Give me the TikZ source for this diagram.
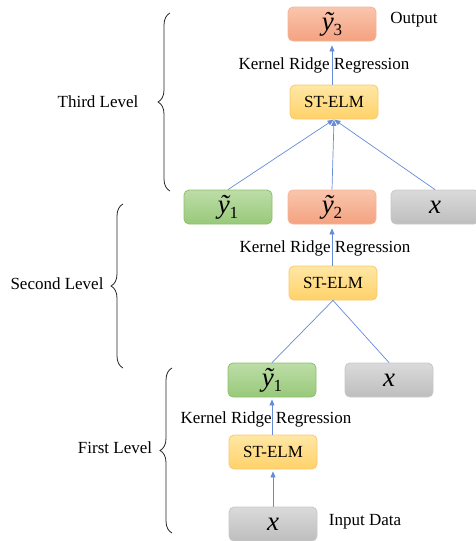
\documentclass[tikz,border=0pt]{standalone}
\usepackage{fontspec}
\setmainfont{LiberationSerif}[Extension=.ttf, UprightFont=*-Regular,
  ItalicFont=*-Italic, BoldFont=*-Bold, BoldItalicFont=*-BoldItalic]
\usetikzlibrary{decorations.pathreplacing,arrows.meta}

\definecolor{salmonTop}{RGB}{249,197,173}
\definecolor{salmonBot}{RGB}{244,162,128}
\definecolor{salmonEdge}{RGB}{246,180,150}
\definecolor{greenTop}{RGB}{189,221,168}
\definecolor{greenBot}{RGB}{152,201,122}
\definecolor{greenEdge}{RGB}{140,192,106}
\definecolor{greyTop}{RGB}{218,218,218}
\definecolor{greyBot}{RGB}{190,190,190}
\definecolor{greyEdge}{RGB}{200,200,200}
\definecolor{yelTop}{RGB}{255,231,165}
\definecolor{yelBot}{RGB}{255,210,105}
\definecolor{yelEdge}{RGB}{250,200,110}
\definecolor{flow}{RGB}{100,140,215}

\newcommand{\ytil}[1]{{\fontsize{27}{27}\selectfont\itshape ỹ}{\fontsize{17}{17}\selectfont\raisebox{-5pt}{#1}}}
\newcommand{\xvar}{{\fontsize{27}{27}\selectfont\itshape x}}

\tikzset{
  box/.style={rounded corners=5pt, minimum width=88pt, minimum height=34pt,
    inner sep=0pt, line width=0.8pt},
  outbox/.style={box, draw=salmonEdge, top color=salmonTop, bottom color=salmonBot},
  grnbox/.style={box, draw=greenEdge, top color=greenTop, bottom color=greenBot},
  grybox/.style={box, draw=greyEdge, top color=greyTop, bottom color=greyBot},
  elmbox/.style={box, draw=yelEdge, top color=yelTop, bottom color=yelBot,
    font=\fontsize{17}{17}\selectfont},
  lbl/.style={font=\fontsize{17}{17}\selectfont, inner sep=0pt},
  flowline/.style={draw=flow, line width=0.7pt},
  flowarrow/.style={flowline, -{Triangle[length=6pt,width=5pt]}, shorten >=4pt},
  levelbrace/.style={draw=black!85, line width=0.8pt,
    decorate, decoration={brace, amplitude=12pt}},
}

\begin{document}
\begin{tikzpicture}[x=1pt, y=-1pt]
  \useasboundingbox (0,0) rectangle (475,541);

  % third level
  \node[outbox] (y3) at (332,24) {\ytil{3}};
  \node[elmbox] (st3) at (334,102) {ST-ELM};

  % second level
  \node[grnbox] (a1) at (228,207) {\ytil{1}};
  \node[outbox] (a2) at (332,207) {\ytil{2}};
  \node[grybox] (ax) at (435,207) {\xvar};
  \node[elmbox] (st2) at (333,283) {ST-ELM};

  % first level
  \node[grnbox] (b1) at (272,380) {\ytil{1}};
  \node[grybox] (bx) at (389,380) {\xvar};
  \node[elmbox] (st1) at (273,452) {ST-ELM};
  \node[grybox] (in) at (273,524) {\xvar};

  % connectors
  \draw[flowarrow] (st3.north -| y3.south) -- (y3.south);
  \draw[flowarrow, shorten >=0.5pt] (a1.north) -- (st3.south);
  \draw[flowarrow, shorten >=0.5pt] (a2.north) -- (st3.south);
  \draw[flowarrow, shorten >=0.5pt] (ax.north) -- (st3.south);

  \draw[flowarrow] (st2.north -| a2.south) -- (a2.south);
  \draw[flowline] (b1.north) -- (st2.south);
  \draw[flowline] (bx.north) -- (st2.south);

  \draw[flowarrow, shorten >=2pt] (st1.north -| b1.south) -- (b1.south);
  \draw[flowarrow, shorten >=2pt] (in.north) -- (st1.south);

  % labels
  \node[lbl] (o) at (414,20) {Output};
  \node[lbl] (k3) at (324,65) {Kernel Ridge Regression};
  \node[lbl] (k2) at (325,248) {Kernel Ridge Regression};
  \node[lbl] (k1) at (266,419) {Kernel Ridge Regression};
  \node[lbl] (id) at (365,522) {Input Data};

  % level braces
  \coordinate (t3) at (170,191); \coordinate (h3) at (170,13);
  \coordinate (t2) at (123,368); \coordinate (h2) at (123,204);
  \coordinate (t1) at (172,533); \coordinate (h1) at (172,368);
  \draw[levelbrace] (t3) -- (h3);
  \draw[levelbrace] (t2) -- (h2);
  \draw[levelbrace] (t1) -- (h1);
  \node[lbl] (L3) at (98,102) {Third Level};
  \node[lbl] (L2) at (57,284) {Second Level};
  \node[lbl] (L1) at (115,448) {First Level};
\end{tikzpicture}
\end{document}
